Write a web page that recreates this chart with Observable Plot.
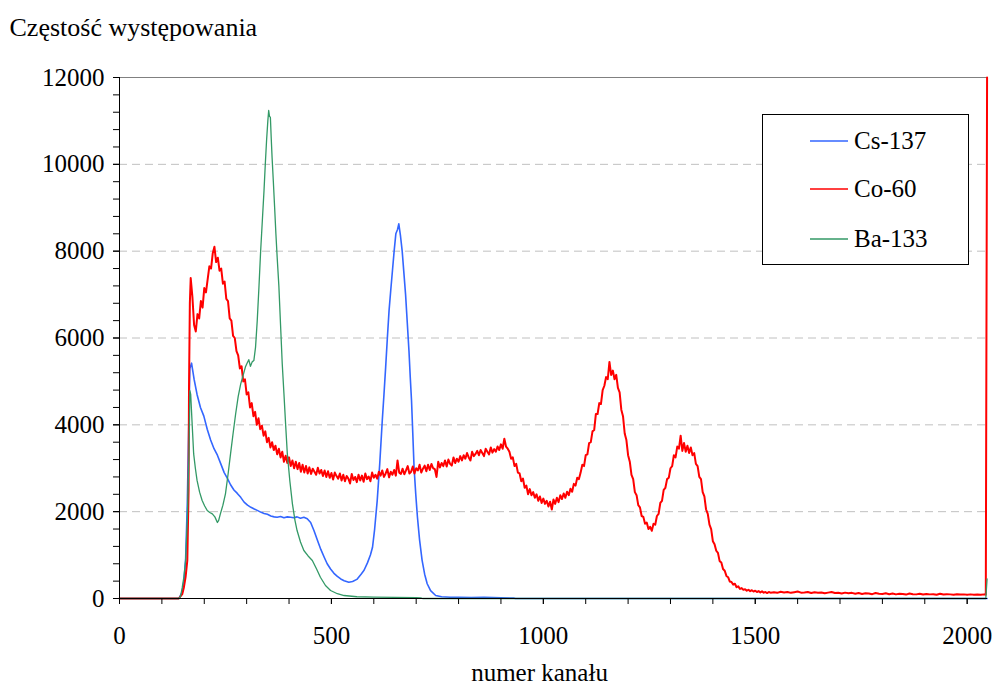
<!DOCTYPE html>
<html>
<head>
<meta charset="utf-8">
<script src="https://cdn.jsdelivr.net/npm/d3@7"></script>
<script src="https://cdn.jsdelivr.net/npm/@observablehq/plot@0.6"></script>
<style>
  html, body { margin: 0; padding: 0; background: #fff; }
  #chart svg { display: block; }
  #chart svg text { font-family: 'Liberation Serif', 'Times New Roman', Times, serif !important; }
</style>
</head>
<body>
<div id="chart"></div>
<script>
// ---------- Data ----------
const titleText = "Częstość występowania";
const xLabelText = "numer kanału";
const seriesNames = ["Cs-137", "Co-60", "Ba-133"];
const seriesColors = ["#3366ff", "#ff0000", "#339966"];

const xTickValues = [0, 500, 1000, 1500, 2000];
const xMinorTicks = [0,100,200,300,400,500,600,700,800,900,1000,1100,1200,1300,1400,1500,1600,1700,1800,1900,2000];
const yTickValues = [0, 2000, 4000, 6000, 8000, 10000, 12000];
const yMinorTicks = [0,400,800,1200,1600,2000,2400,2800,3200,3600,4000,4400,4800,5200,5600,6000,6400,6800,7200,7600,8000,8400,8800,9200,9600,10000,10400,10800,11200,11600,12000];
const yGridValues = [2000, 4000, 6000, 8000, 10000];

// Cs-137
const csChannels = [0,140,148,152,156,160,164,166,170,176,183,191,199,207,215,223,231,239,247,254,262,270,278,286,294,302,310,318,325,333,341,349,357,365,372,380,388,396,404,411,419,427,435,443,451,459,467,475,483,490,498,506,514,522,530,541,550,560,570,577,585,592,597,602,608,614,620,624,628,632,636,640,644,648,652,656,659,663,667,671,675,679,683,686,689,692,695,699,703,708,714,720,726,734,746,760,780,800,830,860,900,930,934,2047];
const csCounts = [0,0,150,400,900,2200,4300,5300,5420,5050,4700,4400,4200,3900,3650,3450,3300,3100,2900,2780,2620,2500,2420,2330,2220,2150,2100,2060,2030,1990,1960,1940,1900,1880,1870,1890,1860,1880,1870,1860,1880,1850,1870,1835,1750,1560,1340,1130,950,800,680,580,510,450,410,375,390,440,560,650,820,1000,1180,1600,2250,3100,4100,4700,5330,6000,6630,7100,7550,8000,8400,8500,8630,8350,8000,7500,7000,6350,5700,5100,4560,3800,3020,2400,1870,1350,880,560,340,180,70,40,30,25,20,25,15,10,0,0];

// Co-60: rise, body every 4 channels from 168 to 1536, tail every 8 channels from 1544 to 2040, last channels
const coHeadChannels = [0,140,148,152,156,160,163,164,166];
const coHeadCounts = [0,0,100,260,500,875,2500,4870,6800];
const coBodyStart = 168, coBodyStep = 4;
const coBodyCounts = [
  7380,6950,6300,6150,6550,6450,6850,6700,7150,7050,
  7350,7650,7600,7950,8100,7750,7850,7550,7600,7250,
  7300,6900,6850,6450,6400,6050,6000,5700,5600,5300,
  5350,5000,5050,4700,4750,4400,4500,4200,4300,4000,
  4150,3900,3980,3750,3850,3600,3700,3480,3600,3420,
  3520,3320,3450,3250,3380,3150,3290,3120,3250,3050,
  3180,3000,3150,2980,3120,2920,3080,2900,3050,2880,
  3020,2870,2990,2920,2850,3010,2880,2960,2820,2950,
  2800,2930,2780,2890,2740,2900,2820,2760,2880,2720,
  2850,2700,2820,2760,2650,2870,2730,2800,2680,2850,
  2720,2830,2690,2880,2750,2810,2700,2900,2780,2850,
  2760,2920,2830,2950,2800,2880,2980,2790,2920,2850,
  2960,2830,3180,2900,2870,2990,2860,2950,3050,2880,
  2920,3040,2880,3000,2950,3080,2900,2990,3060,2930,
  3080,2960,3100,3000,2980,2800,3150,3020,3120,3050,
  3180,3040,3200,3100,3060,3250,3120,3220,3150,3280,
  3180,3300,3220,3350,3250,3180,3380,3280,3330,3400,
  3300,3420,3350,3280,3450,3380,3320,3480,3360,3440,
  3380,3500,3420,3550,3450,3680,3500,3450,3380,3220,
  3250,3050,3100,2900,2880,2700,2760,2550,2600,2400,
  2520,2380,2450,2320,2400,2250,2350,2200,2300,2180,
  2250,2120,2230,2050,2280,2180,2320,2220,2380,2290,
  2420,2320,2460,2380,2530,2460,2640,2600,2780,2750,
  2900,3080,3050,3300,3320,3580,3600,3850,3880,4250,
  4250,4500,4480,4800,4900,5100,5050,5450,5150,5250,
  5050,5150,4850,4750,4350,4200,3800,3650,3300,3150,
  2850,2750,2450,2380,2150,2100,1900,1880,1720,1750,
  1600,1650,1560,1720,1700,1900,1950,2200,2250,2500,
  2550,2750,2780,3000,3050,3300,3250,3500,3450,3750,
  3400,3580,3380,3520,3350,3480,3300,3350,3100,3050,
  2800,2750,2450,2350,2050,1950,1700,1600,1320,1250,
  1100,1050,860,830,680,640,520,490,390,380,
  320,340,260,280,220,240,200,215,180,200,
  170,190,160,180,150,170,140,165,135,150,
  125,150,135
];
const coTailStart = 1544, coTailStep = 8;
const coTailCounts = [
  145,130,155,140,150,130,145,160,135,140,
  150,125,145,135,140,120,135,150,125,130,
  115,135,120,130,110,125,105,120,115,100,
  125,110,105,120,100,115,95,110,105,90,
  115,100,95,110,90,105,95,100,85,110,
  90,100,95,85,100,90,95,85,95,88,
  92,85,95
];
const coEndChannels = [2044, 2047];
const coEndCounts = [85, 12000];

// Ba-133
const baChannels = [0,140,144,148,152,156,160,163,164,166,168,171,175,179,183,189,195,201,207,213,219,225,231,234,238,244,250,256,262,268,274,280,286,292,297,301,305,309,313,317,321,325,329,333,337,341,344,347,350,352,354,356,358,360,363,366,369,372,376,380,384,388,392,396,402,408,414,419,427,435,445,455,465,474,486,498,514,530,560,600,650,700,711,715,2044,2047];
const baCounts = [0,0,50,250,500,875,1800,3000,3340,4790,4700,4100,3330,3000,2720,2450,2257,2130,2027,1980,1950,1880,1750,1800,1950,2150,2410,2850,3330,3800,4250,4650,4945,5150,5330,5420,5500,5350,5450,5480,5790,6400,7170,8000,8700,9400,10000,10550,11000,11240,11100,11085,10600,10160,9600,9010,8400,7860,7200,6300,5400,4715,4000,3330,2700,2180,1800,1566,1300,1105,980,875,680,490,300,184,110,69,40,30,25,20,15,0,0,450];

// ---------- Build tables ----------
const csData = csChannels.map((c, i) => ({ch: c, v: csCounts[i]}));
const coData = [
  ...coHeadChannels.map((c, i) => ({ch: c, v: coHeadCounts[i]})),
  ...coBodyCounts.map((v, i) => ({ch: coBodyStart + i * coBodyStep, v})),
  ...coTailCounts.map((v, i) => ({ch: coTailStart + i * coTailStep, v})),
  ...coEndChannels.map((c, i) => ({ch: c, v: coEndCounts[i]}))
];
const baData = baChannels.map((c, i) => ({ch: c, v: baCounts[i]}));

const font = "'Liberation Serif', 'Times New Roman', Times, serif";

const chart = Plot.plot({
  width: 997,
  height: 686,
  marginTop: 77,
  marginRight: 10,
  marginBottom: 88,
  marginLeft: 119,
  style: {fontFamily: font, fontSize: "25px", background: "#fff", color: "#000", overflow: "visible"},
  x: {domain: [0, 2048]},
  y: {domain: [0, 12000]},
  marks: [
    Plot.gridY(yGridValues, {stroke: "#c0c0c0", strokeOpacity: 1, strokeDasharray: "8,5"}),
    Plot.ruleY([12000], {stroke: "#808080", strokeWidth: 1.2}),
    Plot.line(csData, {x: "ch", y: "v", stroke: seriesColors[0], strokeWidth: 1.6}),
    Plot.line(coData, {x: "ch", y: "v", stroke: seriesColors[1], strokeWidth: 2}),
    Plot.line(baData, {x: "ch", y: "v", stroke: seriesColors[2], strokeWidth: 1.3}),
    Plot.ruleX([0], {stroke: "#000"}),
    Plot.ruleY([0], {stroke: "#000"}),
    Plot.axisY(yMinorTicks, {tickSize: 6, text: null, label: null, stroke: "#000"}),
    Plot.axisY(yTickValues, {tickSize: 6, tickPadding: 9, tickFormat: d => String(d), label: null, fontSize: 25}),
    Plot.axisX(xMinorTicks, {tickSize: 6, text: null, label: null}),
    Plot.axisX(xTickValues, {tickSize: 6, tickPadding: 22, tickFormat: d => String(d), label: null, fontSize: 25}),
    Plot.text([titleText], {frameAnchor: "top-left", dx: -110, dy: -50, textAnchor: "start", lineAnchor: "middle", fontSize: 26}),
    Plot.text([xLabelText], {frameAnchor: "bottom", dx: -14, dy: 74, lineAnchor: "middle", fontSize: 25})
  ]
});

document.getElementById("chart").appendChild(chart);

// ---------- Legend ----------
const svg = d3.select(chart);
const lg = svg.append("g").attr("font-size", 25).attr("text-anchor", "start");
lg.append("rect").attr("x", 762.5).attr("y", 114.5).attr("width", 206).attr("height", 150)
  .attr("fill", "#fff").attr("stroke", "#000").attr("stroke-width", 1);
const legendYs = [141, 189, 239];
seriesNames.forEach((name, i) => {
  lg.append("line").attr("x1", 810).attr("x2", 848).attr("y1", legendYs[i]).attr("y2", legendYs[i])
    .attr("stroke", seriesColors[i]).attr("stroke-width", 1.5);
  lg.append("text").attr("x", 854).attr("y", legendYs[i]).attr("dy", "0.33em")
    .attr("text-anchor", "start").text(name);
});
</script>
</body>
</html>
